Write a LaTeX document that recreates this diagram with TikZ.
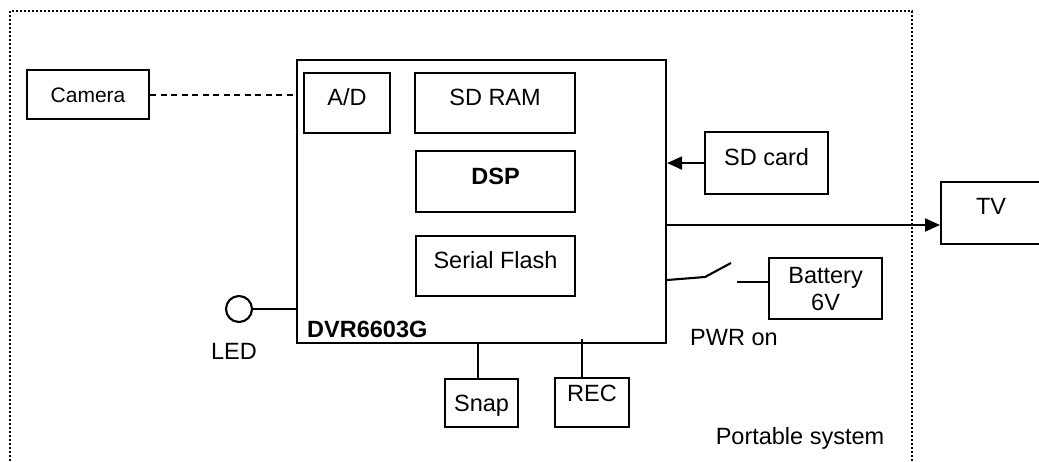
\documentclass[tikz,border=0pt]{standalone}
\usepackage{fontspec}
\setmainfont{Liberation Sans}
\usetikzlibrary{arrows.meta,calc}
\tikzset{
  x=1pt,y=-1pt,
  every node/.style={font=\fontsize{23.5}{27}\selectfont},
  box/.style={draw,line width=2.1pt,inner sep=0pt,anchor=north west,text height=16.8pt,text depth=0pt},
  wire/.style={line width=2.1pt},
  arr/.style={line width=2.1pt,-{Triangle[length=15pt,width=13pt]}},
  frame/.style={line width=2pt,dash pattern=on 2pt off 2pt},
  cdash/.style={line width=2.1pt,dash pattern=on 6pt off 4.5pt},
  plain/.style={inner sep=0pt}
}
\begin{document}
\begin{tikzpicture}
\useasboundingbox (0,0) rectangle (1039,461);
% outer dotted frame
\draw[frame] (10,461) -- (10,11) -- (912,11) -- (912,461);
% main chip
\node[box,minimum width=369pt,minimum height=283pt] (main) at (296,59) {};
\node[box,minimum width=86pt,minimum height=60pt,text depth=11pt] (ad) at (303,72) {A/D};
\node[box,minimum width=160pt,minimum height=60pt,text depth=12pt] (ram) at (414,72) {SD RAM};
\node[box,minimum width=159pt,minimum height=61pt,text depth=11pt] (dsp) at (415,150) {\bfseries DSP};
\node[box,minimum width=159pt,minimum height=60pt,text depth=12pt] (flash) at (415,235) {Serial Flash};
\node[plain,anchor=base west] (chipname) at (307,337) {\bfseries DVR6603G};
% camera
\node[box,minimum width=122pt,minimum height=49pt,font=\fontsize{21}{25}\selectfont,text height=15pt] (cam) at (26,69) {Camera};
\draw[cdash] (cam.east) -- (cam.east -| main.west);
% SD card
\node[box,minimum width=123pt,minimum height=62pt,text depth=12pt] (sd) at (704,131) {SD card};
\draw[arr] (sd.west) -- (sd.west -| main.east);
% TV
\node[box,minimum width=110pt,minimum height=62pt,text depth=14pt] (tv) at (940,181) {\hspace*{-10pt}TV};
\coordinate (tvin) at (940,225);
\draw[arr] (tvin -| main.east) -- (tvin);
% battery and switch
\node[draw,line width=2.1pt,inner sep=0pt,anchor=north west,minimum width=113pt,minimum height=61pt,align=center] (bat) at (768,257) {Battery\\6V};
\coordinate (swa) at (705,277);
\coordinate (swb) at (731,263);
\coordinate (swc) at (737,282);
\draw[wire] (main.east |- 0,280) -- (swa) -- (swb);
\draw[wire] (swc) -- (swc -| bat.west);
\node[plain,anchor=base west] (pwr) at (690,345) {PWR on};
% LED
\node[draw,circle,line width=2.1pt,minimum size=26pt,inner sep=0pt] (led) at (239,309) {};
\draw[wire] (led.east) -- (led.east -| main.west);
\node[plain] (ledtxt) at (234,351) {LED};
% Snap and REC
\node[box,minimum width=73pt,minimum height=48pt] (snap) at (444,378) {Snap};
\draw[wire] (snap.north -| 478,0) -- (main.south -| 478,0);
\node[box,minimum width=74pt,minimum height=49pt,text depth=18pt] (rec) at (554,377) {REC};
\draw[wire] (rec.north -| 582,0) -- (582,339);
% label
\node[plain] (port) at (800,438) {Portable system};
\end{tikzpicture}
\end{document}
